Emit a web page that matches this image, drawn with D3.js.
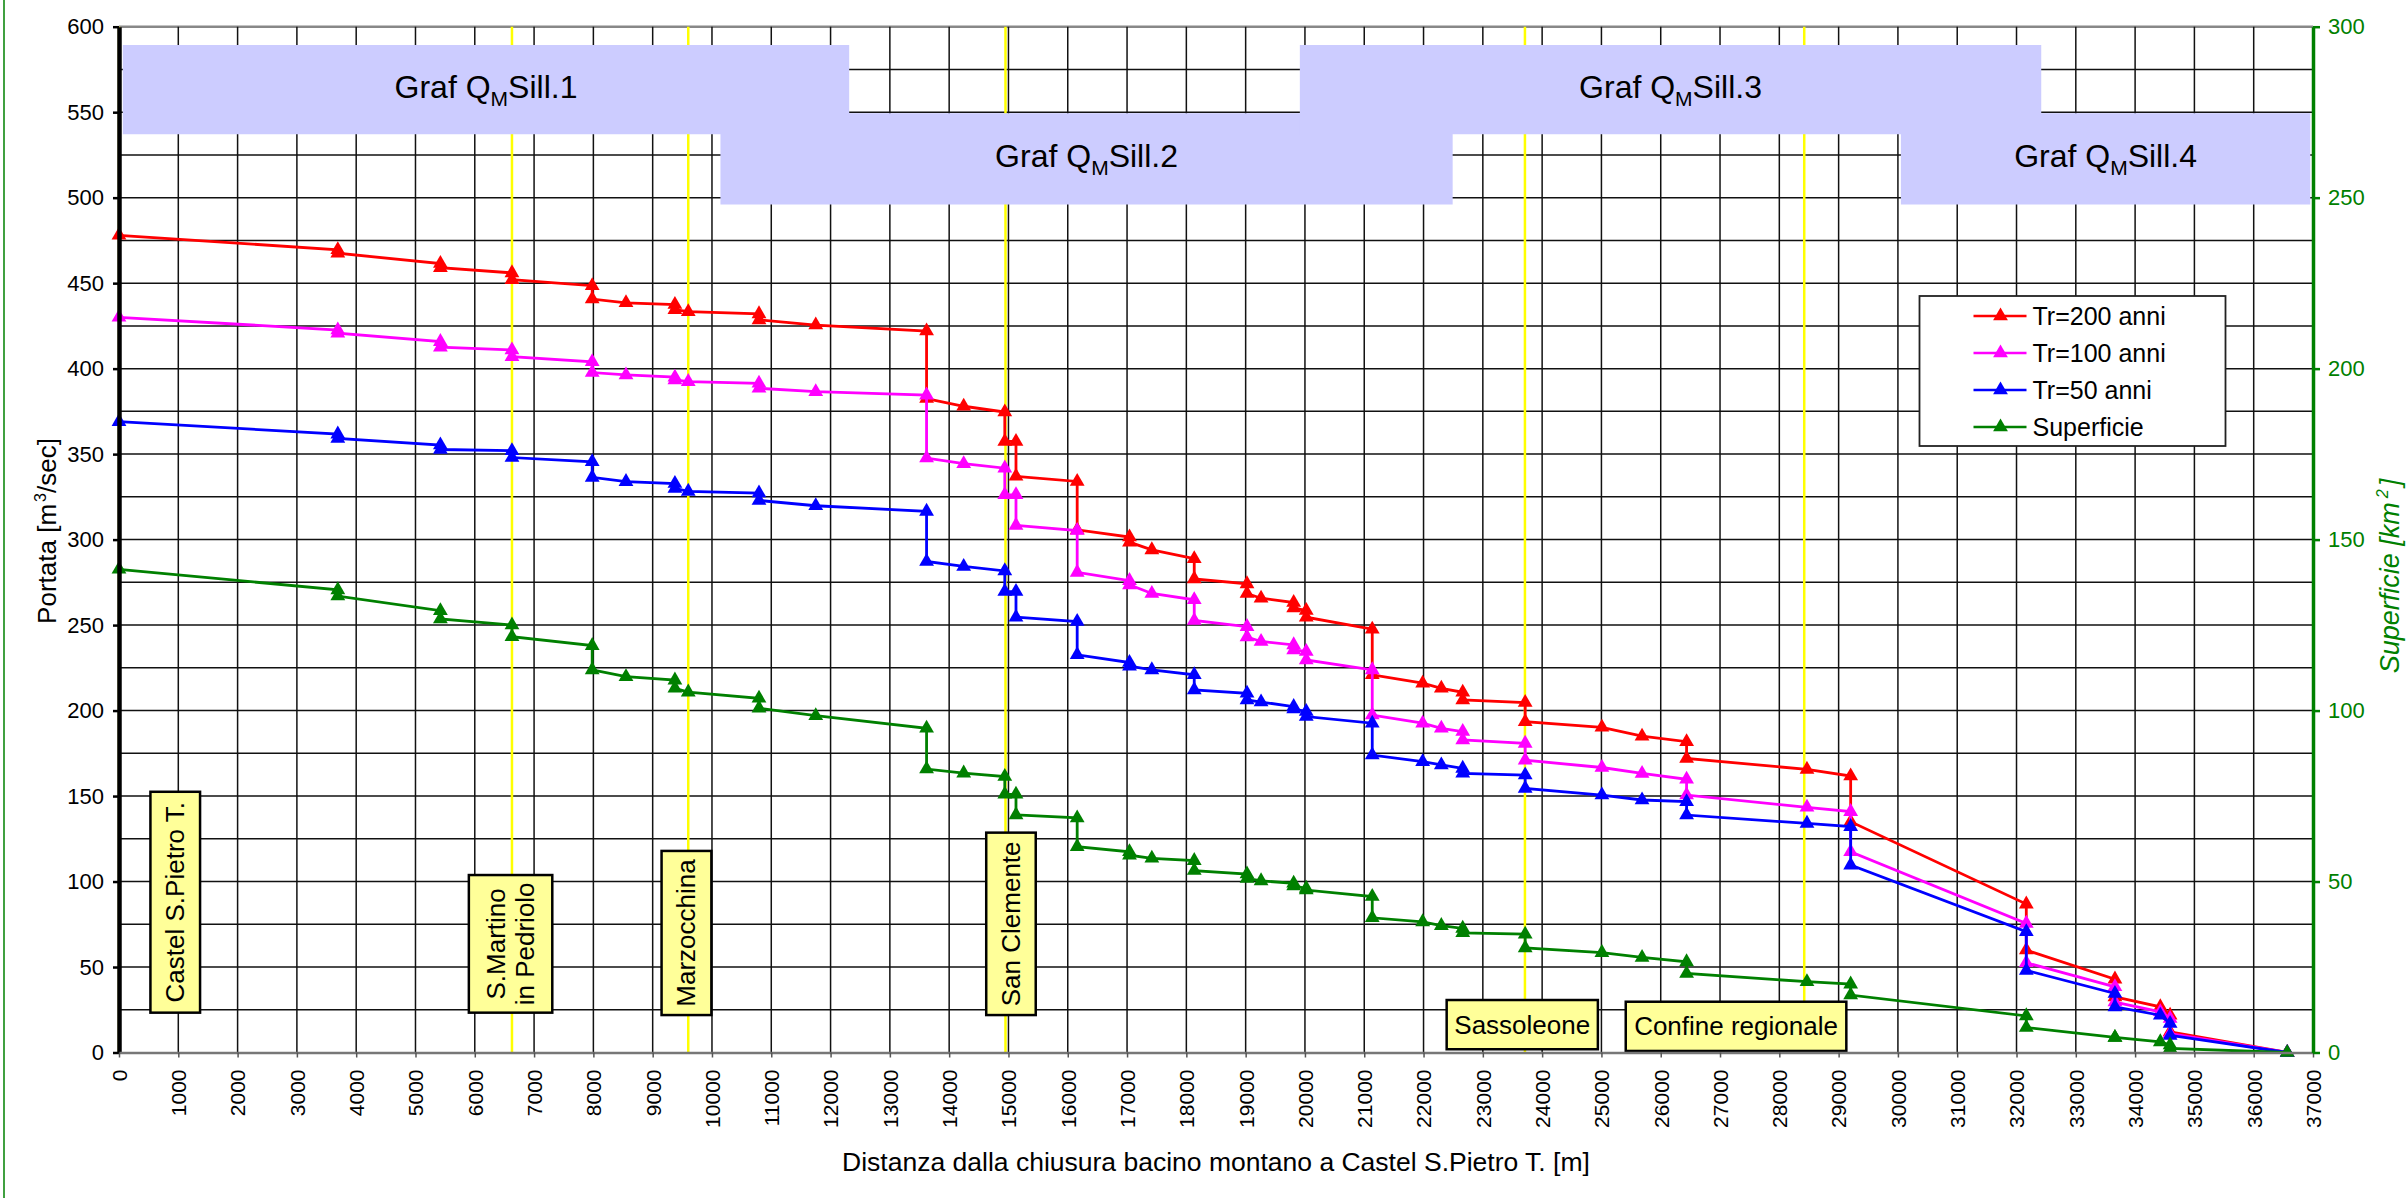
<!DOCTYPE html>
<html>
<head>
<meta charset="utf-8">
<script src="https://cdnjs.cloudflare.com/ajax/libs/d3/7.8.5/d3.min.js"></script>
<style>
  body { margin: 0; background: #fff; }
  #graf text { font-family: "Liberation Sans", Arial, sans-serif; }
</style>
</head>
<body>
<div id="graf"></div>
<script>
// Datos
const distanze = [0, 3690, 3690, 5420, 5420, 6627, 6627, 7980, 7980, 8550, 9375, 9375, 9600, 10793, 10793,
  11750, 13619, 13619, 14245, 14938, 14938, 15127, 15127, 16159, 16159, 17041, 17041, 17418, 18133, 18133,
  19023, 19023, 19260, 19810, 19810, 20022, 20022, 21135, 21135, 21985, 22300, 22661, 22661, 23714, 23714,
  25008, 25685, 26436, 26436, 28466, 29203, 29203, 32165, 32165, 33660, 33660, 34425, 34590, 34590, 36565]
const tr200 = [478, 469.5, 467.5, 461.5, 459, 456, 452, 448.5, 440.7, 438.5, 437.5, 434.5, 433.3, 432, 428.5,
  425.5, 422, 382.5, 378, 374.6, 357.4, 357.4, 337, 334, 305.7, 301.5, 298.5, 294, 288.8, 277,
  274.1, 268.5, 265.7, 263.2, 260, 258.5, 254.6, 247.6, 220.9, 216, 213, 210.7, 206.2, 204.7, 193.5,
  190.2, 185, 181.8, 172, 165.6, 161.7, 135, 86.8, 59.9, 42.9, 32.5, 26.7, 21.8, 12, 0]
const tr100 = [430, 422.6, 420.7, 415.8, 412.5, 410.9, 407, 404, 397.7, 396.3, 395, 393.4, 392.4, 391.4, 388.5,
  386.5, 384.5, 347.7, 344.4, 341.8, 326.2, 326.2, 308.3, 305.3, 280.8, 276, 273.5, 268.5, 264.8, 252.7,
  249.1, 243, 240.4, 238.4, 235.5, 234.5, 229.6, 223.8, 197.4, 192.6, 189.6, 187.7, 182.8, 180.8, 171,
  166.7, 163.2, 159.8, 150.6, 143.4, 140.9, 117.4, 75.5, 52.5, 38.4, 29.5, 23.8, 19.9, 11, 0]
const tr50 = [369, 361.7, 359.2, 355.3, 352.7, 352, 348, 345.5, 336.4, 333.9, 332.8, 329.9, 328.2, 327.2, 322.9,
  319.8, 316.5, 287.2, 284.3, 281.7, 269.6, 269.6, 254.6, 252.1, 232.6, 228.1, 226, 223.8, 220.9, 212.1,
  210.1, 206.2, 205, 202.3, 201, 199.4, 196.5, 192.6, 174, 170.1, 168.2, 166.2, 163.3, 162.3, 154.5,
  150.6, 147.7, 146.7, 138.9, 134, 132.1, 109.6, 70.6, 48, 34.5, 26.7, 21.8, 17, 10, 0]
// km2, asse destro
const superficie = [141.3, 135.3, 133.5, 129.2, 126.8, 125, 121.6, 119, 111.9, 109.9, 108.9, 106.5, 105.4, 103.6, 100.7,
  98.5, 94.8, 82.9, 81.7, 80.7, 75.5, 75.5, 69.5, 68.6, 60.2, 58.7, 57.7, 56.8, 56.1, 53.2,
  52.2, 50.9, 50.2, 49.5, 48.7, 48, 47.5, 45.6, 39.4, 38.2, 37.1, 36.3, 35, 34.6, 30.6,
  29.2, 27.8, 26.5, 23.1, 20.7, 20, 16.8, 10.7, 7.3, 4.4, 4.4, 3.1, 2.2, 1.2, 0]

const serie = ["Tr=200 anni", "Tr=100 anni", "Tr=50 anni", "Superficie"]
const colori = ["#ff0000", "#ff00ff", "#0000ff", "#008000"]

const localita = ["Castel S.Pietro T.", "S.Martino|in Pedriolo", "Marzocchina", "San Clemente", "Sassoleone", "Confine regionale"]
const posLocalita = [0, 6627, 9600, 14950, 23710, 28420]

const grafici = ["1", "2", "3", "4"]
const grafDa = [64, 10143, 19914, 30050]
const grafA = [12314, 22491, 32417, 36954]

const tickX = d3.range(0, 37001, 1000)
const tickY = d3.range(0, 601, 50)
const tickY2 = d3.range(0, 301, 50)

// Layout delle etichette (coordinate dati)
const boxLocalita = [
  { x0: 530, x1: 1367, y0: 23.3, y1: 152.5, vert: true },
  { x0: 5900, x1: 7307, y0: 23.3, y1: 103.8, vert: true },
  { x0: 9150, x1: 9990, y0: 21.9, y1: 117.9, vert: true },
  { x0: 14625, x1: 15460, y0: 21.9, y1: 128.6, vert: true },
  { x0: 22390, x1: 24940, y0: 1.9, y1: 30.7, vert: false },
  { x0: 25410, x1: 29130, y0: 0.9, y1: 29.7, vert: false },
]
const bande = [[537.1, 589.3], [496, 549.4]]

// Selectores
const graf = d3.select("#graf")
const anchoTotal = 2408
const altoTotal = 1198
const margins = { top: 26.7, right: 95, bottom: 145.5, left: 119 }
const ancho = anchoTotal - margins.left - margins.right
const alto = altoTotal - margins.top - margins.bottom

const svg = graf.append("svg").attr("width", anchoTotal).attr("height", altoTotal)
svg.append("rect").attr("width", anchoTotal).attr("height", altoTotal).attr("fill", "#fff")
svg.append("line").attr("x1", 4).attr("x2", 4).attr("y1", 0).attr("y2", altoTotal)
  .attr("stroke", "#008000").attr("stroke-width", 1.5)

const g = svg.append("g").attr("transform", `translate(${margins.left}, ${margins.top})`)

// Escaladores
const x = d3.scaleLinear().domain([0, 37000]).range([0, ancho])
const y = d3.scaleLinear().domain([0, 600]).range([alto, 0])
const y2 = d3.scaleLinear().domain([0, 300]).range([alto, 0])

// Griglia
g.append("g").selectAll("line").data(d3.range(25, 601, 25)).join("line")
  .attr("x1", 0).attr("x2", ancho).attr("y1", (d) => y(d)).attr("y2", (d) => y(d))
  .attr("stroke", (d) => (d === 600 ? "#888" : "#111")).attr("stroke-width", (d) => (d === 600 ? 2.5 : 1.5))
g.append("g").selectAll("line").data(tickX.slice(1, -1)).join("line")
  .attr("x1", (d) => x(d)).attr("x2", (d) => x(d)).attr("y1", 0).attr("y2", alto)
  .attr("stroke", "#111").attr("stroke-width", 1.5)

// Linee località
g.append("g").selectAll("line").data(posLocalita).join("line")
  .attr("x1", (d) => x(d)).attr("x2", (d) => x(d)).attr("y1", 0).attr("y2", alto)
  .attr("stroke", "#ffff00").attr("stroke-width", 2.5)

// Riquadri Graf QM Sill
const gGraf = g.append("g")
grafici.forEach((n, i) => {
  const b = bande[i % 2]
  gGraf.append("rect")
    .attr("x", x(grafDa[i])).attr("width", x(grafA[i]) - x(grafDa[i]))
    .attr("y", y(b[1])).attr("height", y(b[0]) - y(b[1]))
    .attr("fill", "#ccccff")
})
grafici.forEach((n, i) => {
  const b = bande[i % 2]
  const t = gGraf.append("text")
    .attr("x", x((grafDa[i] + grafA[i]) / 2)).attr("y", (y(b[0]) + y(b[1])) / 2 + 8)
    .attr("text-anchor", "middle").attr("font-size", 32).attr("fill", "#000")
  t.append("tspan").text("Graf Q")
  t.append("tspan").attr("font-size", 21).attr("dy", 8).text("M")
  t.append("tspan").attr("dy", -8).text("Sill." + n)
})

// Serie
const valori = [tr200, tr100, tr50, superficie]
const triangolo = d3.symbol().type(d3.symbolTriangle).size(95)
valori.forEach((vals, k) => {
  const sc = k === 3 ? y2 : y
  const punti = distanze.map((d, i) => [x(d), sc(vals[i])])
  const gs = g.append("g")
  gs.append("path")
    .attr("d", d3.line()(punti))
    .attr("fill", "none").attr("stroke", colori[k]).attr("stroke-width", 2.8)
  gs.selectAll("path.mk").data(punti).join("path").attr("class", "mk")
    .attr("d", triangolo)
    .attr("transform", (p) => `translate(${p[0]}, ${p[1]})`)
    .attr("fill", colori[k])
})

// Etichette località
const gLoc = g.append("g")
localita.forEach((nome, i) => {
  const b = boxLocalita[i]
  const bx = x(b.x0), bw = x(b.x1) - x(b.x0)
  const by = y(b.y1), bh = y(b.y0) - y(b.y1)
  gLoc.append("rect").attr("x", bx).attr("y", by).attr("width", bw).attr("height", bh)
    .attr("fill", "#ffff99").attr("stroke", "#000").attr("stroke-width", 2.5)
  const cx = bx + bw / 2, cy = by + bh / 2
  const righe = nome.split("|")
  if (b.vert) {
    const t = gLoc.append("text")
      .attr("transform", `translate(${cx}, ${cy}) rotate(-90)`)
      .attr("text-anchor", "middle").attr("font-size", 26)
    righe.forEach((r, j) => {
      t.append("tspan").attr("x", 0)
        .attr("y", (j - (righe.length - 1) / 2) * 29 + 9).text(r)
    })
  } else {
    gLoc.append("text").attr("x", cx).attr("y", cy + 9)
      .attr("text-anchor", "middle").attr("font-size", 26).text(nome)
  }
})

// Ejes
const yAxisGroup = g.append("g").call(d3.axisLeft(y).tickValues(tickY).tickSize(6).tickSizeOuter(0).tickPadding(9))
yAxisGroup.select(".domain").attr("stroke", "#000").attr("stroke-width", 4.5)
yAxisGroup.selectAll(".tick line").attr("stroke-width", 2.5)
yAxisGroup.selectAll("text").attr("font-size", 22).attr("fill", "#000")

const xAxisGroup = g.append("g").attr("transform", `translate(0, ${alto})`)
  .call(d3.axisBottom(x).tickValues(tickX).tickFormat(d3.format("d")).tickSize(5).tickSizeOuter(0))
xAxisGroup.select(".domain").attr("stroke", "#777").attr("stroke-width", 2.5)
xAxisGroup.selectAll(".tick line").attr("stroke", "#555").attr("stroke-width", 1.5)
xAxisGroup.selectAll("text")
  .attr("transform", "rotate(-90)").attr("x", -17).attr("y", 0).attr("dy", "0.35em")
  .attr("text-anchor", "end").attr("font-size", 21).attr("fill", "#000")

const y2AxisGroup = g.append("g").attr("transform", `translate(${ancho}, 0)`)
  .call(d3.axisRight(y2).tickValues(tickY2).tickSize(7).tickSizeOuter(0).tickPadding(8))
y2AxisGroup.select(".domain").attr("stroke", "#008000").attr("stroke-width", 3.5)
y2AxisGroup.selectAll(".tick line").attr("stroke", "#008000").attr("stroke-width", 2.5)
y2AxisGroup.selectAll("text").attr("font-size", 22).attr("fill", "#008000")

// Titoli assi
const ty = svg.append("text").attr("transform", "translate(56, 531) rotate(-90)")
  .attr("text-anchor", "middle").attr("font-size", 26)
ty.append("tspan").text("Portata [m")
ty.append("tspan").attr("font-size", 16).attr("dy", -10).attr("dx", 2).text("3")
ty.append("tspan").attr("dy", 10).text("/sec]")

svg.append("text").attr("x", margins.left + ancho / 2).attr("y", 1171)
  .attr("text-anchor", "middle").attr("font-size", 26.5).text("Distanza dalla chiusura bacino montano a Castel S.Pietro T. [m]")

const ty2 = svg.append("text").attr("transform", "translate(2399, 576) rotate(-90)")
  .attr("text-anchor", "middle").attr("font-size", 27).attr("font-style", "italic").attr("fill", "#008000")
ty2.append("tspan").text("Superficie [km")
ty2.append("tspan").attr("font-size", 16).attr("dy", -11).attr("dx", 4).text("2")
ty2.append("tspan").attr("dy", 11).attr("dx", 3).text("]")

// Legenda
const leg = svg.append("g").attr("transform", "translate(1919.5, 296)")
leg.append("rect").attr("width", 306).attr("height", 150).attr("fill", "#fff")
  .attr("stroke", "#222").attr("stroke-width", 1.8)
serie.forEach((s, k) => {
  const ly = 20 + k * 37
  leg.append("line").attr("x1", 54).attr("x2", 107).attr("y1", ly).attr("y2", ly)
    .attr("stroke", colori[k]).attr("stroke-width", 2.6)
  leg.append("path").attr("d", triangolo).attr("transform", `translate(81, ${ly})`).attr("fill", colori[k])
  leg.append("text").attr("x", 113).attr("y", ly + 9).attr("font-size", 25).text(s)
})
</script>
</body>
</html>
